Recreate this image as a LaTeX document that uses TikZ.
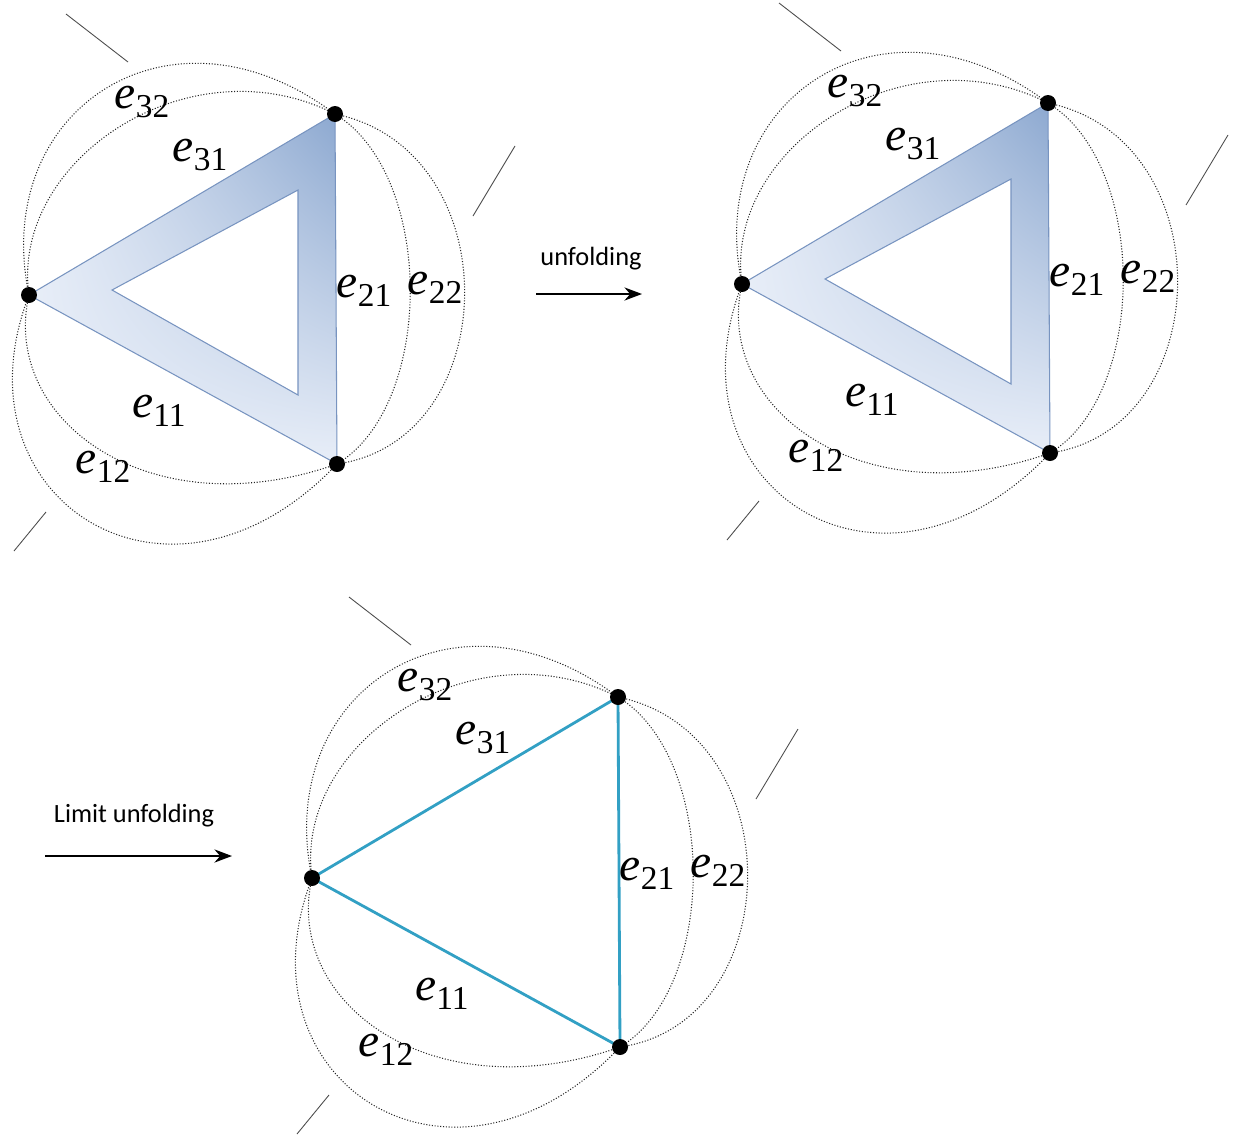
\documentclass[tikz,border=0pt]{standalone}
\usepackage{fontspec}
\newfontfamily\labelfont{Carlito}
\newfontfamily\edgefont{Liberation Serif}
\usetikzlibrary{arrows.meta, shadings}
\definecolor{bandlight}{RGB}{232,238,248}
\definecolor{banddark}{RGB}{140,168,208}
\definecolor{bandedge}{RGB}{120,148,192}
\definecolor{edgeblue}{RGB}{50,160,196}
\tikzset{%
  vertex/.style={circle, fill=black, inner sep=0pt, minimum size=0.32cm},
  petal/.style={densely dotted, line width=0.6pt, black!85},
  tick/.style={line width=0.5pt, black!70},
  edgelabel/.style={font=\edgefont\fontsize{27}{30}\selectfont},
  steplabel/.style={font=\labelfont\fontsize{15}{18}\selectfont}
}
\newcommand{\elab}[1]{\textit{e}\raisebox{-0.4ex}{\fontsize{19}{22}\selectfont #1}}
\newcommand{\petals}{%
  \draw[petal] (L) .. controls (-10,110) and (170,-10) .. (T);
  \draw[petal] (L) .. controls (10,160) and (190,40) .. (T);
  \draw[petal] (T) .. controls (435,175) and (435,405) .. (B);
  \draw[petal] (T) .. controls (510,150) and (505,440) .. (B);
  \draw[petal] (B) .. controls (150,530) and (0,420) .. (L);
  \draw[petal] (B) .. controls (170,640) and (-50,500) .. (L);
  \draw[tick] (66,14) -- (128,62);
  \draw[tick] (515,146) -- (473,216);
  \draw[tick] (46,512) -- (14,551);
  \node[edgelabel] (l32) at (142,102) {\elab{32}};
  \node[edgelabel] (l31) at (200,155) {\elab{31}};
  \node[edgelabel] (l21) at (364,291) {\elab{21}};
  \node[edgelabel] (l22) at (435,288) {\elab{22}};
  \node[edgelabel] (l11) at (159,411) {\elab{11}};
  \node[edgelabel] (l12) at (103,467) {\elab{12}};
}
\newcommand{\corners}{%
  \coordinate (L) at (29,295);
  \coordinate (T) at (335,114);
  \coordinate (B) at (337,464);
}
\newcommand{\band}{%
  \shade[even odd rule, upper right=banddark, upper left=bandlight, lower left=bandlight, lower right=bandlight]
    (L) -- (T) -- (B) -- cycle (112,290) -- (298,190) -- (298,395) -- cycle;
  \draw[bandedge, line width=0.6pt]
    (L) -- (T) -- (B) -- cycle (112,290) -- (298,190) -- (298,395) -- cycle;
}

\begin{document}
\begin{tikzpicture}[x=0.02cm, y=-0.02cm]
  \useasboundingbox (0,0) rectangle (1234,1136);
  %% folded
  \begin{scope}[name prefix=a-]
    \corners
    \band
    \petals
    \node[vertex] at (L) {};
    \node[vertex] at (T) {};
    \node[vertex] at (B) {};
  \end{scope}
  %% unfolding
  \node[steplabel] (u) at (591,259) {unfolding};
  \coordinate (u0) at (536,294);
  \coordinate (u1) at (642,294);
  \draw[-{Stealth[length=10pt]}, line width=0.8pt] (u0) -- (u1);
  \begin{scope}[name prefix=b-, shift={(713,-11)}]
    \corners
    \band
    \petals
    \node[vertex] at (L) {};
    \node[vertex] at (T) {};
    \node[vertex] at (B) {};
  \end{scope}
  %% limit unfolding
  \node[steplabel] (lu) at (134,816) {Limit unfolding};
  \coordinate (v0) at (45,856);
  \coordinate (v1) at (232,856);
  \draw[-{Stealth[length=10pt]}, line width=0.8pt] (v0) -- (v1);
  \begin{scope}[name prefix=c-, shift={(283,583)}]
    \corners
    \draw[edgeblue, line width=1.6pt] (L) -- (T) -- (B) -- cycle;
    \petals
    \node[vertex] at (L) {};
    \node[vertex] at (T) {};
    \node[vertex] at (B) {};
  \end{scope}
\end{tikzpicture}
\end{document}
